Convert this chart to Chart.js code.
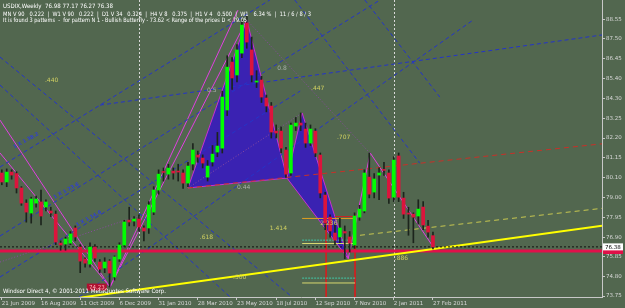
<!DOCTYPE html>
<html>
<head>
<meta charset="utf-8">
<script src="https://cdn.jsdelivr.net/npm/chart.js@4.4.1/dist/chart.umd.min.js"></script>
<style>
  html, body { margin: 0; padding: 0; background: #52674f; overflow: hidden; }
  canvas { display: block; }
</style>
</head>
<body>
<canvas id="chart" width="625" height="308"></canvas>
<script>
// weekly USDX candles, 21 Jun 2009 .. 27 Feb 2011
const dateLabels = ['21 Jun 2009', '16 Aug 2009', '11 Oct 2009', '6 Dec 2009', '31 Jan 2010', '28 Mar 2010',
  '23 May 2010', '18 Jul 2010', '12 Sep 2010', '7 Nov 2010', '2 Jan 2011', '27 Feb 2011'];
const dateTicks = [0, 8, 16, 24, 32, 40, 48, 56, 64, 72, 80, 88];
const priceTicks = [88.55, 87.50, 86.45, 85.40, 84.30, 83.25, 82.20, 81.15, 80.10, 79.00, 77.95, 76.90, 75.85, 74.80, 73.75];

const open = [80.33, 79.85, 80.38, 80.30, 79.53, 78.72, 78.19, 78.72, 78.78, 78.51, 78.30, 78.13, 76.58, 76.53, 76.58, 77.39,
  76.37, 75.73, 75.46, 76.37, 75.57, 75.25, 75.62, 74.77, 75.73, 76.48, 77.81, 77.76, 77.87, 77.39, 77.39, 78.24,
  79.42, 80.38, 80.27, 80.43, 80.40, 80.33, 79.79, 80.81, 81.29, 81.13, 80.11, 80.92, 81.45, 81.66, 83.70, 86.26,
  85.57, 86.74, 88.35, 86.91, 85.19, 85.30, 84.34, 83.91, 82.57, 82.57, 81.56, 80.33, 82.84, 83.00, 82.68, 81.93,
  82.57, 81.29, 79.15, 77.97, 77.12, 76.91, 77.20, 76.91, 76.48, 77.97, 78.30, 80.11, 79.31, 80.22, 80.49, 80.33,
  79.04, 81.24, 78.99, 78.19, 78.13, 78.03, 78.51, 77.49, 76.98];
const high = [80.50, 80.55, 80.50, 80.40, 79.60, 78.90, 79.04, 79.10, 79.42, 78.90, 78.50, 78.30, 76.70, 76.90, 77.20, 77.50,
  76.50, 75.80, 76.60, 76.50, 75.70, 75.80, 75.70, 75.90, 76.60, 77.80, 78.50, 78.00, 78.10, 77.50, 78.80, 79.60,
  80.50, 80.60, 80.80, 80.60, 80.80, 80.50, 80.90, 81.90, 81.50, 81.30, 81.00, 81.80, 82.50, 84.70, 86.60, 86.50,
  87.20, 88.50, 88.70, 87.60, 85.80, 85.50, 84.50, 84.10, 82.90, 82.80, 81.70, 83.00, 83.30, 83.54, 83.00, 82.90,
  82.70, 81.40, 79.30, 78.10, 77.60, 77.90, 77.50, 77.20, 78.20, 78.60, 80.50, 81.40, 80.30, 80.60, 80.90, 80.50,
  81.20, 81.40, 79.30, 78.50, 78.20, 78.90, 78.80, 77.80, 77.17];
const low = [79.70, 79.60, 80.00, 79.26, 78.60, 77.70, 77.65, 78.50, 77.55, 78.30, 78.00, 76.50, 76.20, 76.20, 76.50, 76.70,
  75.00, 75.30, 75.30, 75.60, 75.00, 75.00, 74.23, 74.60, 75.60, 76.40, 77.50, 77.50, 77.20, 76.70, 77.10, 78.10,
  79.20, 79.90, 80.00, 80.00, 79.90, 79.50, 79.60, 80.50, 80.90, 80.60, 79.90, 80.70, 81.20, 81.40, 83.40, 84.80,
  85.20, 86.50, 87.00, 85.20, 84.90, 84.10, 83.60, 82.20, 82.20, 81.40, 80.10, 80.20, 82.60, 82.60, 81.70, 81.80,
  81.20, 79.00, 77.30, 76.90, 76.50, 76.60, 75.75, 76.10, 76.30, 77.80, 78.20, 79.00, 79.00, 78.90, 80.20, 78.70,
  78.80, 78.80, 77.90, 77.00, 76.60, 77.60, 77.30, 76.90, 76.27];
const close = [79.85, 80.38, 80.22, 79.53, 78.72, 78.24, 78.94, 78.94, 78.03, 78.78, 78.19, 76.64, 76.48, 76.80, 77.07, 76.91,
  75.62, 75.51, 76.37, 75.78, 75.19, 75.57, 74.98, 75.84, 76.48, 77.71, 77.71, 77.87, 77.44, 77.23, 78.62, 79.42,
  80.27, 80.36, 80.59, 80.33, 80.38, 79.79, 80.70, 81.56, 81.18, 80.86, 80.70, 81.34, 81.77, 84.39, 85.99, 85.41,
  86.91, 88.24, 87.33, 85.57, 85.25, 84.39, 83.91, 82.52, 82.47, 81.66, 80.27, 82.89, 83.00, 82.89, 81.93, 82.68,
  81.40, 79.26, 77.65, 77.23, 76.74, 77.39, 77.12, 76.58, 78.03, 78.40, 80.33, 79.20, 80.01, 80.33, 80.47, 78.99,
  81.02, 79.04, 78.13, 78.13, 77.97, 78.40, 77.55, 77.17, 76.38];

const separators = [28, 80];
const bidPrice = 76.38;
const redLevel = 76.16;
const lowMark = 74.23;

// drawn objects, [bar index, price]
const patternXAB = [[38.0, 79.53], [50.0, 88.51], [58.2, 80.06], [38.0, 79.53]];
const patternBCD = [[58.2, 80.06], [61.3, 83.54], [70.7, 75.75], [58.2, 80.06]];
const yellowTrend = [[15.9, 73.66], [122.5, 77.51]];
const khakiTrend = [[73.1, 77.0], [122.5, 78.44]];
const redTrend = [[38.0, 79.53], [122.5, 81.89]];
const blueLines = [
  [[20.05, 83.96], [122.5, 87.71]],
  [[-0.37, 80.65], [54.7, 89.58]],
  [[-0.37, 76.96], [77.2, 89.58]],
  [[-0.37, 74.77], [60.9, 84.71]],
  [[15.76, 73.70], [96.2, 88.51]],
  [[-0.37, 85.03], [46.6, 73.70]],
  [[-0.37, 86.53], [58.8, 73.80]],
  [[59.8, 89.58], [85.3, 80.86]],
  [[74.1, 89.58], [89.4, 84.39]]
];
const magentaLines = [
  [[-0.37, 81.40], [22.08, 74.23]],
  [[-0.37, 83.16], [22.08, 74.23]],
  [[22.08, 74.23], [50.0, 88.51]],
  [[22.08, 74.23], [48.2, 89.04]],
  [[70.7, 75.75], [75.2, 81.4], [88.2, 76.32]]
];
const purpleDotted = [
  [[50.0, 88.51], [75.1, 81.4]],
  [[-0.37, 75.57], [30.2, 78.24]],
  [[38.0, 79.53], [61.3, 83.54]]
];
const targetLines = [
  { pts: [[61.3, 77.9], [71.7, 77.9]], color: '#e0a020', dash: [] },
  { pts: [[68.0, 78.0], [72.1, 78.0]], color: '#d02020', dash: [] },
  { pts: [[61.3, 76.74], [71.7, 76.74]], color: '#40c8a8', dash: [2, 1] },
  { pts: [[61.3, 76.56], [71.7, 76.56]], color: '#d8d870', dash: [] },
  { pts: [[61.3, 74.71], [72.1, 74.71]], color: '#40c8a8', dash: [2, 1] },
  { pts: [[61.3, 74.45], [72.1, 74.45]], color: '#d8d870', dash: [] },
  { pts: [[66.2, 78.1], [66.2, 73.7]], color: '#d02020', dash: [] },
  { pts: [[72.1, 78.1], [72.1, 73.7]], color: '#d02020', dash: [] }
];
const ratioLabels = [
  ['.440', 8.8, 85.3, '#d0d060'], ['.447', 63.1, 84.87, '#d0d060'], ['.707', 68.4, 82.25, '#d0d060'],
  ['2.236', 65.0, 77.65, '#d0d060'], ['1.414', 54.7, 77.39, '#d0d060'], ['.618', 40.4, 76.9, '#d0d060'],
  ['.886', 80.2, 75.78, '#d0d060'], ['.500', 47.2, 74.77, '#d0d060'],
  ['0.5', 41.9, 84.77, '#a8b0a8'], ['0.8', 56.2, 85.94, '#a8b0a8'], ['0.44', 48.0, 79.58, '#a8b0a8']
];
const gannLabels = [['1 X 1 38.2', 2.7, 81.56], ['1 X 1 23.6', 10.9, 78.88], ['1 X 1 14.6', 15.5, 77.39]];

const headerLines = [
  'USDIX,Weekly  76.98 77.17 76.27 76.38',
  'MN V 90   0.222  |  W1 V 90   0.222  |  D1 V 34   0.324  |  H4 V 8   0.375  |  H1 V 4   0.500  |  W1   6.34 %  |  11 / 6 / 8 / 3',
  'It is found 3 patterns  -  for pattern N 1 - Bullish Butterfly - 73.62 < Range of the prices D < 79.05'
];
const copyright = 'Windsor Direct 4, \u00a9 2001-2011 MetaQuotes Software Corp.';

const BG = '#52674f';
const FONT = '"DejaVu Sans", sans-serif';

function line(points, color, width, dash, order, extra) {
  return Object.assign({
    type: 'line',
    data: points.map(p => ({ x: p[0], y: p[1] })),
    borderColor: color,
    borderWidth: width,
    borderDash: dash || [],
    pointRadius: 0,
    fill: false,
    tension: 0,
    order: order
  }, extra || {});
}

const idx = open.map((_, i) => i);
const datasets = [
  {
    type: 'bar',
    data: idx.map(i => ({ x: i, y: [open[i], close[i]] })),
    backgroundColor: idx.map(i => close[i] >= open[i] ? '#00ff00' : '#dc143c'),
    barThickness: 3,
    minBarLength: 1,
    grouped: false,
    order: 0
  },
  {
    type: 'bar',
    data: idx.map(i => ({ x: i, y: [low[i], high[i]] })),
    backgroundColor: '#1c241c',
    barThickness: 1,
    grouped: false,
    order: 1
  },
  line([[-0.37, bidPrice], [122.5, bidPrice]], '#101010', 1, [2, 2], 3),
  line([[-0.37, redLevel], [122.5, redLevel]], '#e0104a', 3, null, 4),
  line(yellowTrend, '#ffff00', 2, null, 3),
  line(khakiTrend, '#c8c850', 1, [5, 4], 5),
  line(redTrend, '#c83028', 1, [5, 4], 5),
  ...blueLines.map(p => line(p, '#2434c8', 1, [4, 3], 6)),
  ...magentaLines.map(p => line(p, '#e040e0', 1, null, 6)),
  ...purpleDotted.map(p => line(p, '#8a4aa0', 1, [1, 2], 7)),
  ...targetLines.map(t => line(t.pts, t.color, 1, t.dash, 5)),
  line(patternXAB, '#c830d0', 1, null, 20, { fill: 'shape', backgroundColor: '#3a22b2' }),
  line(patternBCD, '#c830d0', 1, null, 20, { fill: 'shape', backgroundColor: '#3a22b2' })
];

const overlay = {
  id: 'overlay',
  beforeDraw(chart) {
    const c = chart.ctx;
    c.save();
    c.fillStyle = BG;
    c.fillRect(0, 0, chart.width, chart.height);
    c.restore();
  },
  beforeDatasetsDraw(chart) {
    const c = chart.ctx, x = chart.scales.x, a = chart.chartArea;
    c.save();
    c.strokeStyle = '#d8d8d8';
    c.setLineDash([2, 2]);
    separators.forEach(s => {
      const px = Math.round(x.getPixelForValue(s)) + 0.5;
      c.beginPath(); c.moveTo(px, a.top); c.lineTo(px, a.bottom); c.stroke();
    });
    c.restore();
  },
  afterDatasetsDraw(chart) {
    const c = chart.ctx, x = chart.scales.x, y = chart.scales.y;
    c.save();
    c.font = '6px ' + FONT;
    c.textBaseline = 'middle';
    ratioLabels.forEach(([t, i, v, col]) => {
      c.fillStyle = col;
      c.fillText(t, x.getPixelForValue(i), y.getPixelForValue(v));
    });
    c.fillStyle = '#3040d0';
    c.font = 'bold 5px ' + FONT;
    gannLabels.forEach(([t, i, v]) => {
      c.save();
      c.translate(x.getPixelForValue(i), y.getPixelForValue(v));
      c.rotate(-0.5);
      c.fillText(t, 0, -3);
      c.restore();
    });
    // low price box
    const lx = x.getPixelForValue(19.4), ly = y.getPixelForValue(lowMark);
    c.fillStyle = '#b01030';
    c.fillRect(lx - 10, ly - 3.5, 20, 7);
    c.fillStyle = '#ffb0b8';
    c.font = '5.5px ' + FONT;
    c.textAlign = 'center';
    c.fillText(lowMark.toFixed(2), lx, ly + 0.5);
    c.restore();
  },
  afterDraw(chart) {
    const c = chart.ctx, y = chart.scales.y, a = chart.chartArea;
    c.save();
    c.fillStyle = '#ffffff';
    c.font = '6px ' + FONT;
    c.textBaseline = 'alphabetic';
    const widths = [110, 308, 244];
    const bases = [7.5, 15.5, 22];
    headerLines.forEach((t, k) => c.fillText(t, 3, bases[k], widths[k]));
    c.fillText(copyright, 3, 293, 163);
    // price boxes on the axis
    const by = y.getPixelForValue(bidPrice), ry = y.getPixelForValue(redLevel);
    c.fillStyle = '#e01048';
    c.fillRect(a.right + 1, ry - 2, 20, 5);
    c.fillStyle = '#ffffff';
    c.fillRect(a.right + 1, by - 3.5, 20, 7);
    c.fillStyle = '#000000';
    c.font = '5.5px ' + FONT;
    c.textBaseline = 'middle';
    c.fillText(bidPrice.toFixed(2), a.right + 3, by + 0.5);
    c.restore();
  }
};

new Chart(document.getElementById('chart'), {
  type: 'bar',
  data: { datasets: datasets },
  options: {
    responsive: false,
    animation: false,
    layout: { padding: 0 },
    plugins: { legend: { display: false }, tooltip: { enabled: false } },
    scales: {
      x: {
        type: 'linear',
        min: -0.37,
        max: 122.5,
        offset: false,
        grid: { drawOnChartArea: false, offset: false, color: '#c8c8c8', tickLength: 3 },
        border: { color: '#c8c8c8' },
        afterBuildTicks: s => { s.ticks = dateTicks.map(v => ({ value: v })); },
        afterFit: s => { s.height = 11; s.paddingLeft = 0; s.paddingRight = 0; },
        ticks: {
          callback: (v, k) => dateLabels[k],
          align: 'start',
          maxRotation: 0,
          autoSkip: false,
          padding: 0,
          color: '#d8d8d8',
          font: { family: FONT, size: 5.5 }
        }
      },
      y: {
        position: 'right',
        min: 73.70,
        max: 89.58,
        grid: { drawOnChartArea: false, color: '#c8c8c8', tickLength: 3 },
        border: { color: '#c8c8c8' },
        afterBuildTicks: s => { s.ticks = priceTicks.map(v => ({ value: v })); },
        afterFit: s => { s.width = 23; s.paddingTop = 0; s.paddingBottom = 0; },
        ticks: {
          callback: v => v.toFixed(2),
          padding: 1,
          color: '#d8d8d8',
          font: { family: FONT, size: 5.5 }
        }
      }
    }
  },
  plugins: [overlay]
});
</script>
</body>
</html>
